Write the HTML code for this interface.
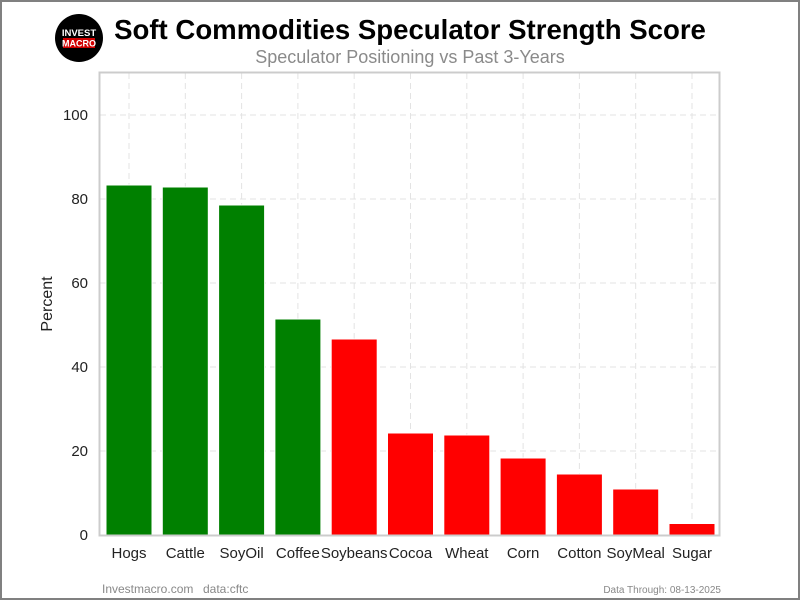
<!DOCTYPE html>
<html><head><meta charset="utf-8"><style>
html,body{margin:0;padding:0;background:#fff}
svg{display:block}
text{font-family:"Liberation Sans",Arial,sans-serif}
</style></head><body>
<svg width="800" height="600" viewBox="0 0 800 600" xmlns="http://www.w3.org/2000/svg">
<rect x="1" y="1" width="798" height="598" fill="#fff" stroke="#808080" stroke-width="2"/>
<circle cx="79" cy="38" r="24" fill="#000"/>
<text x="79" y="36" font-size="9.5" font-weight="bold" fill="#fff" text-anchor="middle">INVEST</text>
<rect x="63" y="38" width="32" height="10" fill="#d00000"/>
<text x="79" y="46.5" font-size="9" font-weight="bold" fill="#fff" text-anchor="middle">MACRO</text>
<text x="410" y="39" font-size="27.6" font-weight="bold" fill="#000" text-anchor="middle">Soft Commodities Speculator Strength Score</text>
<text x="410" y="63" font-size="18" fill="#8a8a8a" text-anchor="middle">Speculator Positioning vs Past 3-Years</text>
<g stroke="#e3e3e3" stroke-width="1" stroke-dasharray="6,4">
<line x1="100" x2="719" y1="451" y2="451"/><line x1="100" x2="719" y1="367" y2="367"/>
<line x1="100" x2="719" y1="283" y2="283"/><line x1="100" x2="719" y1="199" y2="199"/>
<line x1="100" x2="719" y1="115" y2="115"/>
<line x1="129" x2="129" y1="73" y2="535"/><line x1="185.3" x2="185.3" y1="73" y2="535"/>
<line x1="241.6" x2="241.6" y1="73" y2="535"/><line x1="297.9" x2="297.9" y1="73" y2="535"/>
<line x1="354.2" x2="354.2" y1="73" y2="535"/><line x1="410.5" x2="410.5" y1="73" y2="535"/>
<line x1="466.8" x2="466.8" y1="73" y2="535"/><line x1="523.1" x2="523.1" y1="73" y2="535"/>
<line x1="579.4" x2="579.4" y1="73" y2="535"/><line x1="635.7" x2="635.7" y1="73" y2="535"/>
<line x1="692" x2="692" y1="73" y2="535"/>
</g>
<g stroke="#fff" stroke-width="1">
<rect x="106" y="185" width="46" height="350" fill="#008000"/>
<rect x="162.3" y="187" width="46" height="348" fill="#008000"/>
<rect x="218.6" y="205" width="46" height="330" fill="#008000"/>
<rect x="274.9" y="319" width="46" height="216" fill="#008000"/>
<rect x="331.2" y="339" width="46" height="196" fill="#ff0000"/>
<rect x="387.5" y="433" width="46" height="102" fill="#ff0000"/>
<rect x="443.8" y="435" width="46" height="100" fill="#ff0000"/>
<rect x="500.1" y="458" width="46" height="77" fill="#ff0000"/>
<rect x="556.4" y="474" width="46" height="61" fill="#ff0000"/>
<rect x="612.7" y="489" width="46" height="46" fill="#ff0000"/>
<rect x="669" y="523.5" width="46" height="11.5" fill="#ff0000"/>
</g>
<rect x="99.5" y="72.5" width="620" height="463" fill="none" stroke="#cccccc" stroke-width="2"/>
<g font-size="15" fill="#222" text-anchor="end">
<text x="88" y="540">0</text><text x="88" y="456">20</text><text x="88" y="372">40</text>
<text x="88" y="288">60</text><text x="88" y="204">80</text><text x="88" y="120">100</text>
</g>
<text transform="translate(52,304) rotate(-90)" font-size="16" fill="#222" text-anchor="middle">Percent</text>
<g font-size="15" fill="#222" text-anchor="middle">
<text x="129" y="558">Hogs</text><text x="185.3" y="558">Cattle</text><text x="241.6" y="558">SoyOil</text>
<text x="297.9" y="558">Coffee</text><text x="354.2" y="558">Soybeans</text><text x="410.5" y="558">Cocoa</text>
<text x="466.8" y="558">Wheat</text><text x="523.1" y="558">Corn</text><text x="579.4" y="558">Cotton</text>
<text x="635.7" y="558">SoyMeal</text><text x="692" y="558">Sugar</text>
</g>
<text x="102" y="593" font-size="12" fill="#888">Investmacro.com</text>
<text x="203" y="593" font-size="12" fill="#888">data:cftc</text>
<text x="721" y="593" font-size="10" fill="#888" text-anchor="end">Data Through: 08-13-2025</text>
</svg>
</body></html>
